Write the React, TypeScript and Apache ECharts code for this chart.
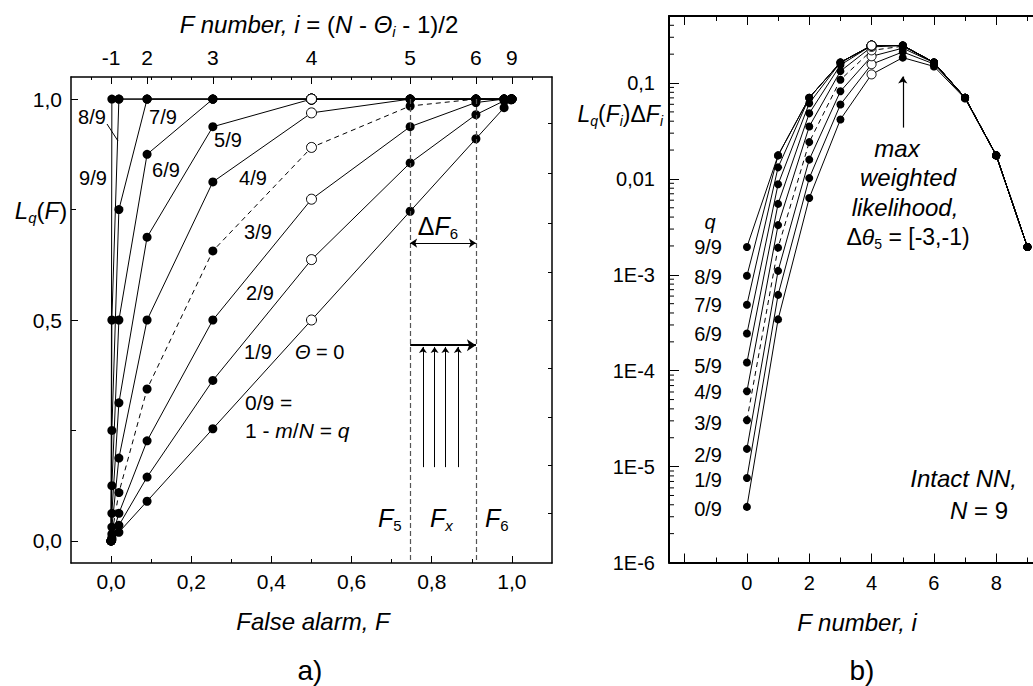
import React, { useEffect, useRef } from "react";
import * as echarts from "echarts";

// ---------- data ----------
const F_NUMBERS = [-1, 0, 1, 2, 3, 4, 5, 6, 7, 8, 9];
const FALSE_ALARM = [0, 0.00195, 0.0195, 0.0898, 0.2539, 0.5, 0.7461, 0.9102, 0.9805, 0.998, 1];
const Q_LABELS = ["0/9", "1/9", "2/9", "3/9", "4/9", "5/9", "6/9", "7/9", "8/9", "9/9"];

// L_q(F) at each F number (i = -1 .. 9), one row per q
const ROC_Q0 = [0, 0.002, 0.0195, 0.0898, 0.2539, 0.5, 0.7461, 0.9102, 0.9805, 0.998, 1];
const ROC_Q1 = [0, 0.0039, 0.0352, 0.1445, 0.3633, 0.6367, 0.8555, 0.9648, 0.9961, 1, 1];
const ROC_Q2 = [0, 0.0078, 0.0625, 0.2266, 0.5, 0.7734, 0.9375, 0.9922, 1, 1, 1];
const ROC_Q3 = [0, 0.0156, 0.1094, 0.3438, 0.6563, 0.8906, 0.9844, 1, 1, 1, 1];
const ROC_Q4 = [0, 0.0313, 0.1875, 0.5, 0.8125, 0.9688, 1, 1, 1, 1, 1];
const ROC_Q5 = [0, 0.0625, 0.3125, 0.6875, 0.9375, 1, 1, 1, 1, 1, 1];
const ROC_Q6 = [0, 0.125, 0.5, 0.875, 1, 1, 1, 1, 1, 1, 1];
const ROC_Q7 = [0, 0.25, 0.75, 1, 1, 1, 1, 1, 1, 1, 1];
const ROC_Q8 = [0, 0.5, 1, 1, 1, 1, 1, 1, 1, 1, 1];
const ROC_Q9 = [0, 1, 1, 1, 1, 1, 1, 1, 1, 1, 1];
const ROC = [ROC_Q0, ROC_Q1, ROC_Q2, ROC_Q3, ROC_Q4, ROC_Q5, ROC_Q6, ROC_Q7, ROC_Q8, ROC_Q9];

// L_q(F_i) * dF_i for i = 0 .. 9
const I_NUMBERS = [0, 1, 2, 3, 4, 5, 6, 7, 8, 9];
const W_Q0 = [3.8e-6, 3.43e-4, 0.00632, 0.0417, 0.123, 0.184, 0.149, 0.0689, 0.0175, 0.00195];
const W_Q1 = [7.6e-6, 6.18e-4, 0.0102, 0.0596, 0.157, 0.211, 0.158, 0.07, 0.0176, 0.00195];
const W_Q2 = [1.53e-5, 0.0011, 0.0159, 0.082, 0.19, 0.231, 0.163, 0.0703, 0.0176, 0.00195];
const W_Q3 = [3.05e-5, 0.00192, 0.0242, 0.108, 0.219, 0.242, 0.164, 0.0703, 0.0176, 0.00195];
const W_Q4 = [6.1e-5, 0.0033, 0.0352, 0.133, 0.238, 0.246, 0.164, 0.0703, 0.0176, 0.00195];
const W_Q5 = [1.22e-4, 0.00549, 0.0483, 0.154, 0.246, 0.246, 0.164, 0.0703, 0.0176, 0.00195];
const W_Q6 = [2.44e-4, 0.00879, 0.0615, 0.164, 0.246, 0.246, 0.164, 0.0703, 0.0176, 0.00195];
const W_Q7 = [4.88e-4, 0.0132, 0.0703, 0.164, 0.246, 0.246, 0.164, 0.0703, 0.0176, 0.00195];
const W_Q8 = [9.77e-4, 0.0176, 0.0703, 0.164, 0.246, 0.246, 0.164, 0.0703, 0.0176, 0.00195];
const W_Q9 = [0.00195, 0.0176, 0.0703, 0.164, 0.246, 0.246, 0.164, 0.0703, 0.0176, 0.00195];
const WEIGHTED = [W_Q0, W_Q1, W_Q2, W_Q3, W_Q4, W_Q5, W_Q6, W_Q7, W_Q8, W_Q9];

const OPEN_I = 4; // F number drawn with open circles
const DASHED_Q = 3;

// tick positions / labels
const TOP_TICK_F = [0, 0.0898, 0.2539, 0.5, 0.7461, 0.9102, 1];
const TOP_TICK_LABELS = ["-1", "2", "3", "4", "5", "6", "9"];
const TOP_MINOR_F = [-0.05, 0.05, 0.1, 0.15, 0.2, 0.3, 0.35, 0.4, 0.45, 0.55, 0.6, 0.65, 0.7, 0.8, 0.85, 0.95, 1.05];
const BOTTOM_TICKS = [0, 0.2, 0.4, 0.6, 0.8, 1.0];
const BOTTOM_MINOR = [0.1, 0.3, 0.5, 0.7, 0.9];
const LEFT_Y_TICKS = [0, 0.5, 1];
const LEFT_Y_MINOR = [0.25, 0.75];
const RIGHT_FRAME_TICKS = [0.063, 0.172, 0.281, 0.391, 0.5, 0.609, 0.718, 0.833, 0.946];
const B_X_MAJOR = [-2, 0, 2, 4, 6, 8];
const B_X_LABELS = [0, 2, 4, 6, 8];
const B_X_MINOR = [-1, 1, 3, 5, 7, 9];

// annotation anchors (data units)
const F5 = 0.7461;
const F6 = 0.9102;
const DELTA_ARROW_L = 0.674;
const THICK_ARROW_L = 0.443;
const UP_ARROW_F = [0.778, 0.807, 0.834, 0.865];
const UP_ARROW_FROM = 0.167;
const MAX_ARROW_I = 5;
const MAX_ARROW_FROM = 0.0343;
const MAX_ARROW_TO = 0.117;

const FONT = '"Liberation Sans", Arial, sans-serif';

function richSet(size: number, sub = 14) {
  const lh = Math.round(size * 1.2);
  return {
    n: { fontSize: size, fontFamily: FONT, fill: "#000", lineHeight: lh },
    i: { fontSize: size, fontFamily: FONT, fontStyle: "italic", fill: "#000", lineHeight: lh },
    s: { fontSize: sub, fontFamily: FONT, fontStyle: "italic", fill: "#000", lineHeight: 4, verticalAlign: "bottom" },
    sn: { fontSize: sub, fontFamily: FONT, fill: "#000", lineHeight: 4, verticalAlign: "bottom" },
  };
}

function txt(text: string, x: number, y: number, size: number, align = "center", sub = 14) {
  return {
    type: "text",
    x,
    y,
    silent: true,
    z: 100,
    style: {
      text,
      rich: richSet(size, sub),
      align,
      verticalAlign: "middle",
      fill: "#000",
      fontSize: size,
      fontFamily: FONT,
    },
  };
}

export default function App() {
  const ref = useRef<HTMLDivElement>(null);

  useEffect(() => {
    if (!ref.current) return;
    const chart = echarts.init(ref.current, undefined, { renderer: "svg" });

    const black = "#000";
    const tickLabel = { color: black, fontFamily: FONT };

    const xAxes: any[] = [
      // 0 left bottom
      {
        gridIndex: 0, type: "value", min: -0.1, max: 1.1, position: "bottom",
        axisLine: { show: true, onZero: false, lineStyle: { color: black, width: 1.5 } },
        axisTick: { show: true, inside: true, length: 7, customValues: BOTTOM_TICKS, lineStyle: { color: black } },
        axisLabel: { ...tickLabel, fontSize: 21, margin: 8, customValues: BOTTOM_TICKS, formatter: (v: number) => v.toFixed(1).replace(".", ",") },
        splitLine: { show: false },
      },
      // 1 left bottom minor
      {
        gridIndex: 0, type: "value", min: -0.1, max: 1.1, position: "bottom",
        axisLine: { show: false, onZero: false },
        axisTick: { show: true, inside: true, length: 4, customValues: BOTTOM_MINOR, lineStyle: { color: black } },
        axisLabel: { show: false }, splitLine: { show: false },
      },
      // 2 left top
      {
        gridIndex: 0, type: "value", min: -0.1, max: 1.1, position: "top",
        axisLine: { show: true, onZero: false, lineStyle: { color: black, width: 1.5 } },
        axisTick: { show: true, inside: true, length: 7, customValues: TOP_TICK_F, lineStyle: { color: black } },
        axisLabel: {
          ...tickLabel, fontSize: 21, margin: 9, customValues: TOP_TICK_F,
          formatter: (v: number) => {
            const idx = TOP_TICK_F.findIndex((f) => Math.abs(f - v) < 1e-6);
            return idx >= 0 ? TOP_TICK_LABELS[idx] : "";
          },
        },
        splitLine: { show: false },
      },
      // 3 left top minor
      {
        gridIndex: 0, type: "value", min: -0.1, max: 1.1, position: "top",
        axisLine: { show: false, onZero: false },
        axisTick: { show: true, inside: true, length: 3, customValues: TOP_MINOR_F, lineStyle: { color: black } },
        axisLabel: { show: false }, splitLine: { show: false },
      },
      // 4 right bottom
      {
        gridIndex: 1, type: "value", min: -2.5, max: 9.5, position: "bottom",
        axisLine: { show: true, onZero: false, lineStyle: { color: black, width: 2 } },
        axisTick: { show: true, inside: true, length: 9, customValues: B_X_MAJOR, lineStyle: { color: black } },
        axisLabel: { ...tickLabel, fontSize: 20, margin: 10, customValues: B_X_LABELS },
        splitLine: { show: false },
      },
      // 5 right bottom minor
      {
        gridIndex: 1, type: "value", min: -2.5, max: 9.5, position: "bottom",
        axisLine: { show: false, onZero: false },
        axisTick: { show: true, inside: true, length: 5, customValues: B_X_MINOR, lineStyle: { color: black } },
        axisLabel: { show: false }, splitLine: { show: false },
      },
      // 6 right top
      {
        gridIndex: 1, type: "value", min: -2.5, max: 9.5, position: "top",
        axisLine: { show: true, onZero: false, lineStyle: { color: black, width: 2 } },
        axisTick: { show: true, inside: true, length: 9, customValues: B_X_MAJOR, lineStyle: { color: black } },
        axisLabel: { show: false }, splitLine: { show: false },
      },
      // 7 right top minor
      {
        gridIndex: 1, type: "value", min: -2.5, max: 9.5, position: "top",
        axisLine: { show: false, onZero: false },
        axisTick: { show: true, inside: true, length: 5, customValues: B_X_MINOR, lineStyle: { color: black } },
        axisLabel: { show: false }, splitLine: { show: false },
      },
    ];

    const yAxes: any[] = [
      // 0 left panel left
      {
        gridIndex: 0, type: "value", min: -0.05, max: 1.05, position: "left",
        axisLine: { show: true, onZero: false, lineStyle: { color: black, width: 1.5 } },
        axisTick: { show: true, inside: true, length: 7, customValues: LEFT_Y_TICKS, lineStyle: { color: black } },
        axisLabel: { ...tickLabel, fontSize: 21, margin: 9, customValues: LEFT_Y_TICKS, formatter: (v: number) => v.toFixed(1).replace(".", ",") },
        splitLine: { show: false },
      },
      // 1 left panel left minor
      {
        gridIndex: 0, type: "value", min: -0.05, max: 1.05, position: "left",
        axisLine: { show: false, onZero: false },
        axisTick: { show: true, inside: true, length: 5, customValues: LEFT_Y_MINOR, lineStyle: { color: black } },
        axisLabel: { show: false }, splitLine: { show: false },
      },
      // 2 left panel right frame
      {
        gridIndex: 0, type: "value", min: -0.05, max: 1.05, position: "right",
        axisLine: { show: true, onZero: false, lineStyle: { color: black, width: 1.5 } },
        axisTick: { show: true, inside: true, length: 4, customValues: RIGHT_FRAME_TICKS, lineStyle: { color: black } },
        axisLabel: { show: false }, splitLine: { show: false },
      },
      // 3 right panel log axis
      {
        gridIndex: 1, type: "log", logBase: 10, min: 1e-6, max: 0.5, position: "left",
        axisLine: { show: true, onZero: false, lineStyle: { color: black, width: 2 } },
        axisTick: { show: true, inside: true, length: 10, lineStyle: { color: black } },
        axisLabel: {
          ...tickLabel, fontSize: 20, margin: 14,
          formatter: (v: number) => {
            const e = Math.round(Math.log10(v));
            if (Math.abs(v - Math.pow(10, e)) / v > 1e-6) return "";
            if (e === -1) return "0,1";
            if (e === -2) return "0,01";
            return "1E" + e;
          },
        },
        splitLine: { show: false },
      },
    ];

    // minor log ticks (2..9 x decade)
    const logMinor: number[][] = [];
    for (let e = -6; e <= -1; e++) {
      for (let m = 2; m <= 9; m++) {
        const v = m * Math.pow(10, e);
        if (v < 0.5) logMinor.push([-2.5, v]);
      }
    }

    const series: any[] = [];
    const lineBase = (k: number) => ({
      type: "line",
      symbol: "none",
      showSymbol: false,
      silent: true,
      z: 2,
      lineStyle: { color: black, width: 1, opacity: 1, type: k === DASHED_Q ? [5, 4] : "solid" },
    });

    // Left panel curves
    ROC.forEach((row, k) => {
      const s: any = {
        ...lineBase(k),
        name: "L " + Q_LABELS[k],
        xAxisIndex: 0,
        yAxisIndex: 0,
        data: FALSE_ALARM.map((f, j) => [f, row[j]]),
      };
      if (k === 0) {
        s.markLine = {
          silent: true, symbol: ["none", "none"], label: { show: false },
          lineStyle: { color: "#555", width: 1.2, type: [5, 3] },
          data: [
            [{ coord: [F5, 1] }, { coord: [F5, -0.05] }],
            [{ coord: [F6, 1] }, { coord: [F6, -0.05] }],
          ],
        };
      }
      if (k === 1) {
        s.markLine = {
          silent: true, symbol: ["arrow", "arrow"], symbolSize: 7, label: { show: false },
          lineStyle: { color: black, width: 1, type: "solid" },
          data: [[{ coord: [F5, DELTA_ARROW_L] }, { coord: [F6, DELTA_ARROW_L] }]],
        };
      }
      if (k === 2) {
        s.markLine = {
          silent: true, symbol: ["none", "arrow"], symbolSize: 9, label: { show: false },
          lineStyle: { color: black, width: 2, type: "solid" },
          data: [[{ coord: [F5, THICK_ARROW_L] }, { coord: [F6, THICK_ARROW_L] }]],
        };
      }
      if (k === 4) {
        s.markLine = {
          silent: true, symbol: ["none", "arrow"], symbolSize: 6, label: { show: false },
          lineStyle: { color: black, width: 1, type: "solid" },
          data: UP_ARROW_F.map((f) => [{ coord: [f, UP_ARROW_FROM] }, { coord: [f, THICK_ARROW_L - 0.004] }]),
        };
      }
      series.push(s);
    });

    const leftFilled: number[][] = [];
    const leftOpen: number[][] = [];
    ROC.forEach((row) => {
      FALSE_ALARM.forEach((f, j) => {
        (F_NUMBERS[j] === OPEN_I ? leftOpen : leftFilled).push([f, row[j]]);
      });
    });
    series.push({
      type: "scatter", xAxisIndex: 0, yAxisIndex: 0, data: leftFilled, symbol: "circle", symbolSize: 9,
      itemStyle: { color: black, opacity: 1 }, z: 3, silent: true,
    });
    series.push({
      type: "scatter", xAxisIndex: 0, yAxisIndex: 0, data: leftOpen, symbol: "circle", symbolSize: 10,
      itemStyle: { color: "#fff", borderColor: black, borderWidth: 1, opacity: 1 }, z: 4, silent: true,
    });

    // Right panel curves
    WEIGHTED.forEach((row, k) => {
      const s: any = {
        ...lineBase(k),
        name: "W " + Q_LABELS[k],
        xAxisIndex: 4,
        yAxisIndex: 3,
        data: I_NUMBERS.map((i, j) => [i, row[j]]),
      };
      if (k === 0) {
        s.markLine = {
          silent: true, symbol: ["none", "arrow"], symbolSize: 7, label: { show: false },
          lineStyle: { color: black, width: 1.2, type: "solid" },
          data: [[{ coord: [MAX_ARROW_I, MAX_ARROW_FROM] }, { coord: [MAX_ARROW_I, MAX_ARROW_TO] }]],
        };
      }
      series.push(s);
    });
    const rightFilled: number[][] = [];
    const rightOpen: number[][] = [];
    WEIGHTED.forEach((row) => {
      I_NUMBERS.forEach((i, j) => {
        (i === OPEN_I ? rightOpen : rightFilled).push([i, row[j]]);
      });
    });
    series.push({
      type: "scatter", xAxisIndex: 4, yAxisIndex: 3, data: rightFilled, symbol: "circle", symbolSize: 8,
      itemStyle: { color: black, opacity: 1 }, z: 3, silent: true,
    });
    series.push({
      type: "scatter", xAxisIndex: 4, yAxisIndex: 3, data: rightOpen, symbol: "circle", symbolSize: 9,
      itemStyle: { color: "#fff", borderColor: black, borderWidth: 1, opacity: 1 }, z: 4, silent: true,
    });
    series.push({
      type: "custom", xAxisIndex: 4, yAxisIndex: 3, data: logMinor, silent: true, clip: false, z: 5,
      renderItem: (_p: any, api: any) => {
        const p = api.coord([api.value(0), api.value(1)]);
        return { type: "line", shape: { x1: p[0], y1: p[1], x2: p[0] + 5, y2: p[1] }, style: { stroke: black, lineWidth: 1 } };
      },
    });

    // texts
    const qLabelPos: [number, number][] = [
      [92, 117], [163, 117], [93, 178], [166, 170], [228, 140], [253, 178], [258, 232], [260, 293], [258, 352],
    ];
    const qLabelOrder = [8, 7, 9, 6, 5, 4, 3, 2, 1];
    const rightQY = [509, 480, 455, 423, 392, 366, 334, 305, 277, 247];

    const graphics: any[] = [
      txt("{i|F number, i} {n|= (}{i|N}{n| - }{i|Θ}{s|i}{n| - 1)/2}", 319, 24, 24, "center", 15),
      txt("{i|L}{s|q}{n|(}{i|F}{n|)}", 41, 210, 24, "center", 15),
      txt("{i|False alarm, F}", 313, 621, 24),
      txt("{n|a)}", 310, 670, 28),
      ...qLabelOrder.map((k, idx) => txt("{n|" + Q_LABELS[k] + "}", qLabelPos[idx][0], qLabelPos[idx][1], 20)),
      txt("{i|Θ}{n| = 0}", 295, 352, 20, "left"),
      txt("{n|" + Q_LABELS[0] + " =}", 245, 402, 21, "left"),
      txt("{n|1 - }{i|m}{n|/}{i|N}{n| = }{i|q}", 245, 430, 21, "left"),
      txt("{n|Δ}{i|F}{sn|6}", 438, 226, 25, "center", 15),
      txt("{i|F}{sn|5}", 378, 518, 25, "left", 15),
      txt("{i|F}{s|x}", 430, 518, 25, "left", 15),
      txt("{i|F}{sn|6}", 485, 518, 25, "left", 15),
      // right panel
      txt("{i|L}{s|q}{n|(}{i|F}{s|i}{n|)Δ}{i|F}{s|i}", 663, 114, 23, "right", 14),
      txt("{i|q}", 710, 222, 20),
      ...Q_LABELS.map((lab, k) => txt("{n|" + lab + "}", 722, rightQY[k], 20, "right")),
      txt("{i|max}", 897, 148, 24),
      txt("{i|weighted}", 908, 177, 24),
      txt("{i|likelihood,}", 905, 207, 24),
      txt("{n|Δ}{i|θ}{sn|5}{n| = [-3,-1)}", 908, 237, 23),
      txt("{i|Intact NN,}", 1017, 478, 24, "right"),
      txt("{i|N}{n| = 9}", 1008, 510, 24, "right"),
      txt("{i|F number, i}", 857, 622, 24),
      txt("{n|b)}", 862, 670, 28),
      {
        type: "line", silent: true, z: 100,
        shape: { x1: 107, y1: 124, x2: 118, y2: 141 },
        style: { stroke: black, lineWidth: 1 },
      },
    ];

    chart.setOption({
      animation: false,
      backgroundColor: "#fff",
      textStyle: { fontFamily: FONT },
      grid: [
        { left: 71, top: 77, width: 481, height: 486, containLabel: false, outerBoundsMode: "none" },
        { left: 669, top: 16, width: 374, height: 546.5, containLabel: false, outerBoundsMode: "none" },
      ],
      xAxis: xAxes,
      yAxis: yAxes,
      series,
      graphic: graphics,
    });

    return () => chart.dispose();
  }, []);

  return (
    <div
      ref={ref}
      style={{ position: "fixed", left: 0, top: 0, width: 1033, height: 686, background: "#fff" }}
    />
  );
}
